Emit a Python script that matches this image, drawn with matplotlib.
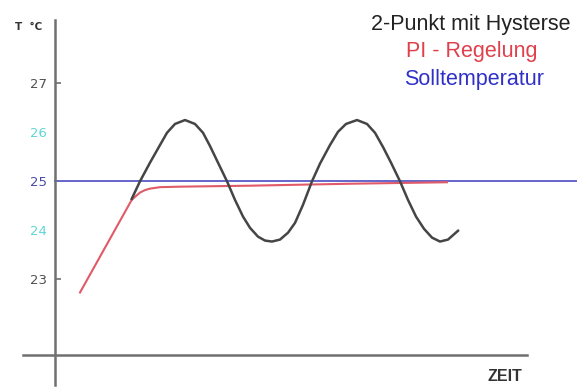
import matplotlib
matplotlib.use("Agg")
import matplotlib.pyplot as plt

# ---- data (time in arbitrary units, temperature in °C) ----
hyst_t = [7.67, 8.5, 9.5, 10.5, 11.2, 12.0, 13.0, 14.0, 14.8, 15.5, 16.3, 17.2,
          18.0, 18.8, 19.5, 20.3, 21.0, 21.7, 22.5, 23.3, 24.0, 24.8, 25.7,
          26.5, 27.5, 28.3, 29.1, 30.2, 31.2, 32.0, 32.8, 33.6, 34.5, 35.3,
          36.1, 36.9, 37.7, 38.5, 39.3, 40.3]
hyst_T = [24.63, 24.99, 25.37, 25.73, 25.98, 26.16, 26.24, 26.16, 25.98, 25.71,
          25.37, 24.99, 24.61, 24.27, 24.04, 23.86, 23.78, 23.76, 23.80, 23.94,
          24.14, 24.51, 24.99, 25.35, 25.73, 26.00, 26.16, 26.24, 26.16, 25.98,
          25.69, 25.37, 24.99, 24.61, 24.27, 24.02, 23.84, 23.76, 23.80, 23.98]

pi_t = [2.5, 7.67, 8.1, 8.5, 9.0, 9.5, 10.5, 12.5, 19.5, 29.5, 39.2]
pi_T = [22.72, 24.61, 24.69, 24.76, 24.81, 24.84, 24.87, 24.88, 24.90, 24.94, 24.97]

setpoint = 25.0
ytick_vals = [23, 24, 25, 26, 27]
ytick_labels = ["23", "24", "25", "26", "27"]
ytick_colors = ["#505050", "#5ED6D6", "#4A4AA0", "#5ED6D6", "#505050"]

legend_texts = ["2-Punkt mit Hysterse", "PI - Regelung", "Solltemperatur"]
legend_colors = ["#222222", "#E0404C", "#3030C8"]

fig = plt.figure(figsize=(5.77, 3.90), dpi=100)
ax = fig.add_axes([0, 0, 1, 1])
ax.set_xlim(-5.5, 52.2)
ax.set_ylim(20.73, 28.69)

axis_col = "#707070"
for s in ["top", "right"]:
    ax.spines[s].set_visible(False)
ax.spines["left"].set_position(("data", 0))
ax.spines["left"].set_bounds(20.84, 28.29)
ax.spines["bottom"].set_position(("data", 21.45))
ax.spines["bottom"].set_bounds(-3.2, 47.2)
for s in ["left", "bottom"]:
    ax.spines[s].set_color(axis_col)
    ax.spines[s].set_linewidth(1.8)

ax.set_xticks([])
ax.set_yticks(ytick_vals)
ax.set_yticklabels(ytick_labels, family="DejaVu Sans", fontsize=9.5)
ax.tick_params(axis="y", direction="in", length=4, width=1.2, color=axis_col, pad=6)
for lbl, c in zip(ax.get_yticklabels(), ytick_colors):
    lbl.set_color(c)
for tk, v in zip(ax.yaxis.get_major_ticks(), ytick_vals):
    if v in (24, 25, 26):
        tk.tick1line.set_visible(False)

# setpoint line
ax.axhline(setpoint, xmin=(0 + 5.5) / 57.7, xmax=1, color="#5858C8", lw=1.3, zorder=2)
# PI
ax.plot(pi_t, pi_T, color="#E05A68", lw=1.5, zorder=3)
# hysteresis
ax.plot(hyst_t, hyst_T, color="#454545", lw=1.8, zorder=4, solid_joinstyle="round")

# labels
fig.text(0.026, 0.930, "T  °C", fontsize=7.5, color="#333333", family="DejaVu Sans",
         ha="left", va="center", fontweight="bold")
fig.text(0.8752, 0.023, "ZEIT", fontsize=11.5, color="#333333", family="Liberation Sans",
         ha="center", va="baseline", fontweight="bold")

ys = [0.924, 0.853, 0.782]
xs = [0.816, 0.818, 0.821]
for txt, c, x, y in zip(legend_texts, legend_colors, xs, ys):
    fig.text(x, y, txt, fontsize=15.5, color=c, family="Liberation Sans",
             ha="center", va="baseline")

fig.savefig("out.png", dpi=100)
